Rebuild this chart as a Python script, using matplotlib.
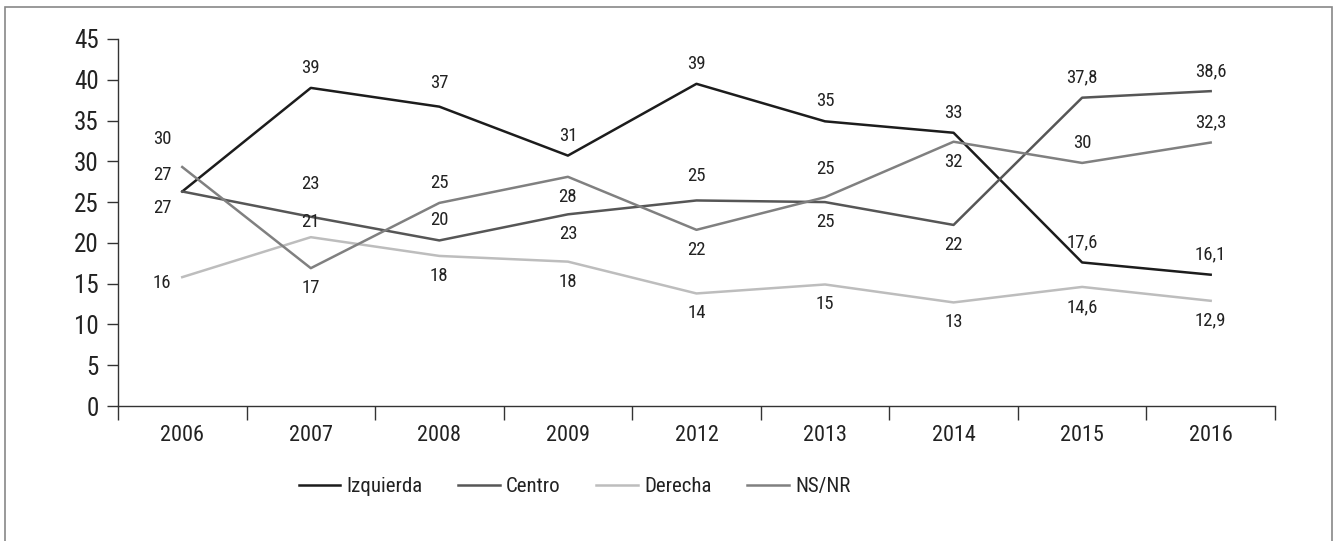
import matplotlib
matplotlib.use('Agg')
import matplotlib.pyplot as plt
from matplotlib.patches import Rectangle
import numpy as np

plt.rcParams['font.family'] = ['Roboto Condensed', 'Archivo Narrow', 'DejaVu Sans']

years = ['2006', '2007', '2008', '2009', '2012', '2013', '2014', '2015', '2016']
izquierda = [26.3, 39.0, 36.7, 30.7, 39.5, 34.9, 33.5, 17.6, 16.1]
centro = [26.3, 23.2, 20.3, 23.5, 25.2, 25.0, 22.2, 37.8, 38.6]
derecha = [15.8, 20.7, 18.4, 17.7, 13.8, 14.9, 12.7, 14.6, 12.9]
nsnr = [29.3, 16.9, 24.9, 28.1, 21.6, 25.6, 32.4, 29.8, 32.3]

izq_lbl = ['27', '39', '37', '31', '39', '35', '33', '17,6', '16,1']
cen_lbl = ['27', '23', '20', '23', '25', '25', '22', '37,8', '38,6']
der_lbl = ['16', '21', '18', '18', '14', '15', '13', '14,6', '12,9']
ns_lbl = ['30', '17', '25', '28', '22', '25', '32', '30', '32,3']

# where each label sits relative to its point (a = above, b = below, l = left)
place = {
    'Izquierda': 'aaaaaaaaa',
    'Centro': 'baababbaa',
    'Derecha': 'labbbbbbb',
    'NS/NR': 'ababbabaa',
}
# a few labels that sit further from the line (pixels)
extra = {('Centro', 1): 13, ('NS/NR', 0): 8, ('Izquierda', 0): -4,
         ('Centro', 0): -3, ('Derecha', 1): -5, ('Centro', 4): 4,
         ('NS/NR', 5): 8, ('Izquierda', 2): 4}

series = [
    ('Izquierda', izquierda, izq_lbl, '#1c1c1c'),
    ('Centro', centro, cen_lbl, '#565656'),
    ('Derecha', derecha, der_lbl, '#bdbdbd'),
    ('NS/NR', nsnr, ns_lbl, '#808080'),
]

fig = plt.figure(figsize=(13.36, 5.41), dpi=100)
ax = fig.add_axes([0.0883, 0.2495, 0.866, 0.6785])
px = 72 / 100

x = np.arange(len(years))
for name, vals, lbls, col in series:
    ax.plot(x, vals, color=col, lw=1.8, label=name)
    for i, (v, t) in enumerate(zip(vals, lbls)):
        p = place[name][i]
        dy = {'a': 20, 'b': -20, 'l': -6}[p]
        if p == 'b':
            dy -= extra.get((name, i), 0)
        else:
            dy += extra.get((name, i), 0)
        dx = -20 if i == 0 else 0
        ax.annotate(t, (i, v), xytext=(dx * px, dy * px), textcoords='offset points',
                    ha='center', va='center', fontsize=13.5, color='#222222')

ax.set_xlim(-0.5, len(years) - 0.5)
ax.set_ylim(0, 45)
ax.set_yticks(range(0, 46, 5))
ax.tick_params(axis='y', length=8, width=1, color='#333333', labelsize=18,
               labelcolor='#222222', pad=6)
ax.set_xticks(np.arange(-0.5, len(years), 1))
ax.set_xticklabels([])
ax.set_xticks(x, minor=True)
ax.set_xticklabels(years, minor=True)
ax.tick_params(axis='x', which='major', length=10, width=1, color='#333333')
ax.tick_params(axis='x', which='minor', length=0, labelsize=16,
               labelcolor='#222222', pad=14)
for s in ['top', 'right']:
    ax.spines[s].set_visible(False)
for s in ['left', 'bottom']:
    ax.spines[s].set_color('#333333')
    ax.spines[s].set_linewidth(1)

leg = fig.legend(loc='center', bbox_to_anchor=(0.43, 0.1), ncol=4, frameon=False,
                 fontsize=15, handlelength=2.0, handletextpad=0.3, columnspacing=1.7)
for t in leg.get_texts():
    t.set_color('#222222')

fig.patches.append(Rectangle((0.004, -0.01), 0.993, 0.997, transform=fig.transFigure,
                             fill=False, edgecolor='#888888', lw=1.2))

fig.savefig('out.png', dpi=100)
